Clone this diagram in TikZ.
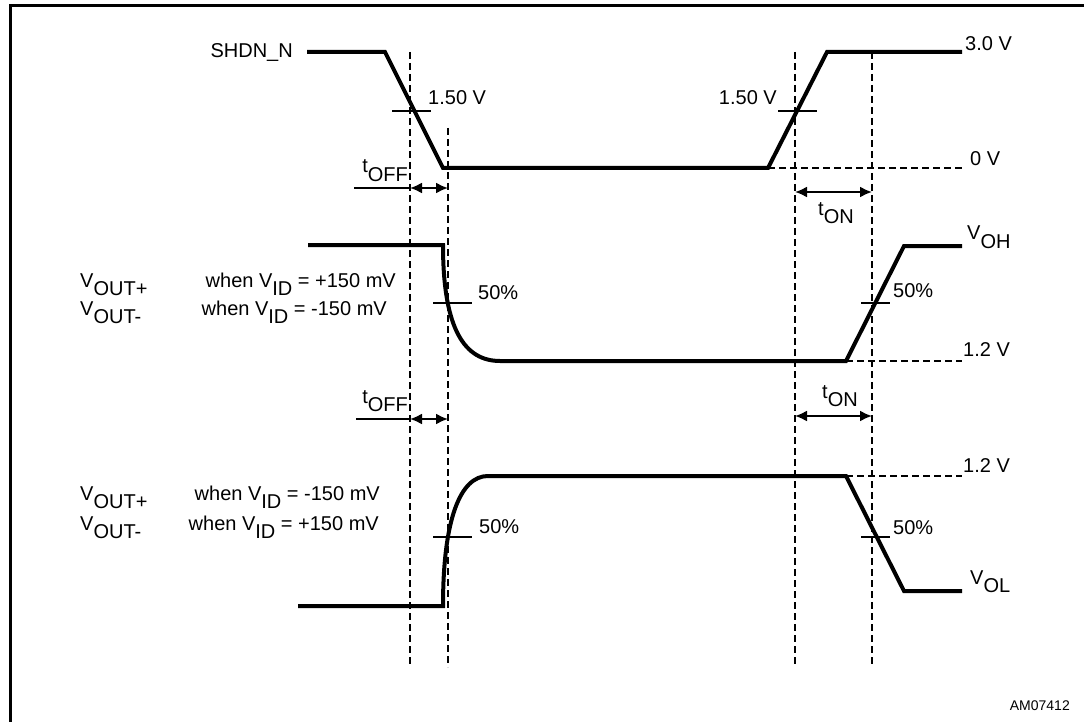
\documentclass[tikz,border=0pt]{standalone}
\usepackage{fontspec}
\setmainfont{Liberation Sans}
\usetikzlibrary{arrows.meta}
\newcommand{\lowsub}[2]{#1\raisebox{-0.42em}{#2}}

\begin{document}
\begin{tikzpicture}[x=1pt,y=-1pt]
\tikzstyle{every node}=[inner sep=0pt, font=\fontsize{20}{24}\selectfont]
\tikzstyle{wave}=[line width=4pt, line join=miter]
\tikzstyle{guide}=[line width=1.2pt, dash pattern=on 7pt off 4pt]
\tikzstyle{tick}=[line width=1.3pt]
\tikzstyle{dim}=[line width=2pt, {Latex[length=12pt,width=11pt]}-{Latex[length=12pt,width=11pt]}]
\useasboundingbox (0,0) rectangle (1084,722);
\begin{scope}
	\clip (0,0) rectangle (1084,722);
	\draw[line width=3pt] (10,6) rectangle (1100,740);
\end{scope}

% time markers
\coordinate (off0) at (410,52);  \coordinate (off0b) at (410,667);
\coordinate (off1) at (448,128); \coordinate (off1b) at (448,667);
\coordinate (on0) at (795,52);   \coordinate (on0b) at (795,667);
\coordinate (on1) at (872,52);   \coordinate (on1b) at (872,667);
\draw[guide] (off0) -- (off0b);
\draw[guide] (off1) -- (off1b);
\draw[guide] (on0) -- (on0b);
\draw[guide] (on1) -- (on1b);

% SHDN_N
\node[anchor=base east] (shdn) at (293,58) {SHDN\_N};
\draw[wave] (307,52) -- (385,52) -- (443,168) coordinate (lo0) -- (768,168) coordinate (up0)
	-- (827,52) -- (962,52) coordinate (hi0);
\coordinate (ref0) at (962,168);
\draw[guide] (up0) -- (ref0);
\node[anchor=base west] (v3) at (965,51) {3.0 V};
\node[anchor=base west] (v0) at (970,166) {0 V};
\draw[tick] (392,111) -- (431,111);
\draw[tick] (778,111) -- (817,111);
\node[anchor=base west] (th1) at (428,105) {1.50 V};
\node[anchor=base east] (th2) at (777,105) {1.50 V};

% first timing arrows
\coordinate (toffa) at (354,188); \coordinate (toffb) at (410,188); \coordinate (toffc) at (448,188);
\draw[tick] (toffa) -- (toffb);
\draw[dim] (toffb) -- (toffc);
\node[anchor=base east] (toff1) at (408,173) {\lowsub{t}{OFF}};
\coordinate (tona) at (795,192); \coordinate (tonb) at (872,192);
\draw[dim] (tona) -- (tonb);
\node[anchor=base west] (ton1) at (818,215) {\lowsub{t}{ON}};

% output falling
\draw[wave] (308,245) -- (443,245) .. controls (443,330) and (465,361) .. (500,361)
	-- (846,361) coordinate (up1) -- (904,246) -- (962,246);
\coordinate (ref1) at (962,361);
\draw[guide] (up1) -- (ref1);
\draw[tick] (433,303) -- (472,303);
\draw[tick] (861,303) -- (890,303);
\node[anchor=base west] (p1) at (478,299) {50\%};
\node[anchor=base west] (p2) at (893,297) {50\%};
\node[anchor=base west] (voh) at (967,240) {\lowsub{V}{OH}};
\node[anchor=base west] (v12a) at (963,356) {1.2 V};
\node[anchor=base west] (vo1) at (80,287) {\lowsub{V}{OUT+}};
\node[anchor=base east] (vid1) at (396,287) {when \lowsub{V}{ID} = +150 mV};
\node[anchor=base west] (vo2) at (80,315) {\lowsub{V}{OUT-}};
\node[anchor=base east] (vid2) at (387,315) {when \lowsub{V}{ID} = -150 mV};

% second timing arrows
\coordinate (toffd) at (356,419); \coordinate (toffe) at (410,419); \coordinate (tofff) at (448,419);
\draw[tick] (toffd) -- (toffe);
\draw[dim] (toffe) -- (tofff);
\node[anchor=base east] (toff2) at (408,403) {\lowsub{t}{OFF}};
\coordinate (tonc) at (795,416); \coordinate (tond) at (872,416);
\draw[dim] (tonc) -- (tond);
\node[anchor=base west] (ton2) at (822,398) {\lowsub{t}{ON}};

% output rising
\draw[wave] (298,606) -- (443,606) .. controls (443,520) and (460,476) .. (488,476)
	-- (846,476) coordinate (up2) -- (904,591) -- (962,591);
\coordinate (ref2) at (962,476);
\draw[guide] (up2) -- (ref2);
\draw[tick] (433,537) -- (472,537);
\draw[tick] (861,537) -- (890,537);
\node[anchor=base west] (p3) at (479,533) {50\%};
\node[anchor=base west] (p4) at (893,534) {50\%};
\node[anchor=base west] (v12b) at (963,472) {1.2 V};
\node[anchor=base west] (vol) at (970,584) {\lowsub{V}{OL}};
\node[anchor=base west] (vo3) at (80,500) {\lowsub{V}{OUT+}};
\node[anchor=base east] (vid3) at (380,500) {when \lowsub{V}{ID} = -150 mV};
\node[anchor=base west] (vo4) at (80,530) {\lowsub{V}{OUT-}};
\node[anchor=base east] (vid4) at (379,530) {when \lowsub{V}{ID} = +150 mV};

\node[anchor=base east, font=\fontsize{14}{16}\selectfont] (id) at (1070,710) {AM07412};
\end{tikzpicture}
\end{document}
